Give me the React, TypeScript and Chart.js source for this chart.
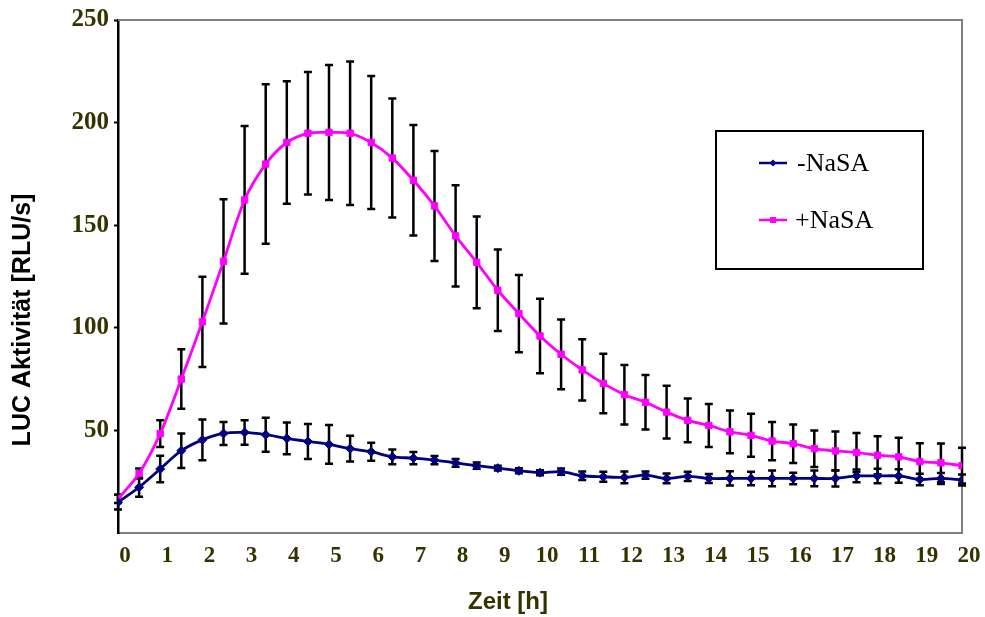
import React, { useEffect, useRef } from 'react';
import { Chart, registerables } from 'chart.js';

Chart.register(...registerables);

// Time points [h]
const hours = [
  0, 0.5, 1, 1.5, 2, 2.5, 3, 3.5, 4, 4.5, 5, 5.5, 6, 6.5, 7, 7.5, 8, 8.5, 9, 9.5,
  10, 10.5, 11, 11.5, 12, 12.5, 13, 13.5, 14, 14.5, 15, 15.5, 16, 16.5, 17, 17.5,
  18, 18.5, 19, 19.5, 20,
];

// -NaSA series (mean and error)
const minusNaSA = [
  15.0, 22.3, 31.2, 40.1, 45.4, 48.5, 49.0, 47.9, 46.1, 44.6, 43.2, 41.1, 39.6, 37.1,
  36.5, 35.5, 34.2, 32.8, 31.6, 30.3, 29.4, 29.9, 27.9, 27.4, 27.1, 28.2, 26.6, 27.6,
  26.6, 26.6, 26.6, 26.6, 26.6, 26.6, 26.6, 27.8, 27.8, 27.8, 26.1, 26.6, 25.8,
];
const minusNaSAErr = [
  3.6, 4.6, 6.5, 8.4, 9.9, 5.6, 6.0, 8.3, 7.7, 8.5, 9.4, 6.3, 4.4, 3.6,
  3.0, 2.0, 1.9, 1.5, 1.2, 1.2, 1.2, 1.5, 2.1, 2.4, 2.9, 1.8, 2.4, 2.2,
  2.2, 3.5, 3.3, 3.8, 2.8, 3.8, 4.0, 3.1, 3.5, 3.3, 2.8, 2.7, 2.7,
];

// +NaSA series (mean and error)
const plusNaSA = [
  16.6, 29.0, 48.4, 75.0, 102.9, 132.4, 162.3, 179.8, 190.3, 194.8, 195.2, 194.8, 190.3, 182.7,
  171.9, 159.4, 144.8, 131.9, 118.3, 106.9, 96.0, 87.1, 79.5, 72.9, 67.4, 63.7, 58.9, 54.9,
  52.4, 49.3, 47.6, 44.8, 43.5, 41.1, 40.0, 39.2, 37.9, 37.1, 34.8, 34.2, 32.8,
];
const plusNaSAErr = [
  2.0, 2.4, 6.5, 14.5, 22.0, 30.3, 36.0, 38.9, 29.9, 29.8, 32.9, 35.0, 32.4, 29.0,
  26.9, 26.8, 24.7, 22.4, 19.8, 18.8, 18.2, 17.0, 14.9, 14.5, 14.5, 13.3, 12.9, 10.7,
  10.5, 10.4, 10.5, 9.3, 9.4, 8.9, 9.5, 9.5, 9.3, 9.3, 8.9, 9.4, 8.7,
];

// Tick labels
const xTickValues = [0, 1, 2, 3, 4, 5, 6, 7, 8, 9, 10, 11, 12, 13, 14, 15, 16, 17, 18, 19, 20];
const yTickValues = [50, 100, 150, 200, 250];

const seriesLabels = ['-NaSA', '+NaSA'];
const xTitle = 'Zeit [h]';
const yTitle = 'LUC Aktivität [RLU/s]';

const OLIVE = '#333300';

export default function App() {
  const ref = useRef<HTMLCanvasElement>(null);

  useEffect(() => {
    if (!ref.current) return;

    const errorBars = {
      id: 'errorBars',
      beforeDatasetsDraw(chart: any) {
        const ctx = chart.ctx;
        const yScale = chart.scales.y;
        ctx.save();
        ctx.strokeStyle = '#000';
        ctx.lineWidth = 2.5;
        chart.data.datasets.forEach((ds: any, di: number) => {
          const meta = chart.getDatasetMeta(di);
          const errs: number[] = ds.errors || [];
          meta.data.forEach((pt: any, j: number) => {
            const v = ds.data[j].y;
            const e = errs[j] || 0;
            const x = pt.x;
            const yT = yScale.getPixelForValue(v + e);
            const yB = yScale.getPixelForValue(v - e);
            ctx.beginPath();
            ctx.moveTo(x, yT);
            ctx.lineTo(x, yB);
            ctx.moveTo(x - 4, yT);
            ctx.lineTo(x + 4, yT);
            ctx.moveTo(x - 4, yB);
            ctx.lineTo(x + 4, yB);
            ctx.stroke();
          });
        });
        ctx.restore();
      },
    };

    const frame = {
      id: 'frame',
      beforeDatasetsDraw(chart: any) {
        const { ctx, chartArea } = chart;
        ctx.save();
        ctx.strokeStyle = '#808080';
        ctx.lineWidth = 2;
        ctx.beginPath();
        ctx.moveTo(chartArea.left, chartArea.top);
        ctx.lineTo(chartArea.right, chartArea.top);
        ctx.lineTo(chartArea.right, chartArea.bottom);
        ctx.stroke();
        ctx.restore();
      },
    };

    const legendBox = {
      id: 'legendBox',
      afterDraw(chart: any) {
        const ctx = chart.ctx;
        ctx.save();
        ctx.fillStyle = '#fff';
        ctx.fillRect(716, 131, 207, 138);
        ctx.strokeStyle = '#000';
        ctx.lineWidth = 2;
        ctx.strokeRect(716, 131, 207, 138);
        const rows = [163, 220];
        chart.data.datasets.forEach((ds: any, i: number) => {
          const y = rows[i];
          ctx.strokeStyle = ds.borderColor;
          ctx.fillStyle = ds.borderColor;
          ctx.lineWidth = 2.5;
          ctx.beginPath();
          ctx.moveTo(759, y);
          ctx.lineTo(787, y);
          ctx.stroke();
          ctx.beginPath();
          if (ds.pointStyle === 'rectRot') {
            ctx.moveTo(773, y - 3.5);
            ctx.lineTo(776.5, y);
            ctx.lineTo(773, y + 3.5);
            ctx.lineTo(769.5, y);
            ctx.closePath();
          } else {
            ctx.rect(770, y - 3, 6, 6);
          }
          ctx.fill();
          ctx.fillStyle = '#000';
          ctx.font = '26px "Liberation Serif"';
          ctx.textAlign = 'left';
          ctx.textBaseline = 'middle';
          ctx.fillText(ds.label, i === 0 ? 797 : 795, y + 1);
        });
        ctx.restore();
      },
    };

    const titles = {
      id: 'titles',
      afterDraw(chart: any) {
        const ctx = chart.ctx;
        ctx.save();
        ctx.textAlign = 'center';
        ctx.textBaseline = 'middle';
        ctx.fillStyle = OLIVE;
        ctx.font = 'bold 24px "Liberation Sans"';
        ctx.fillText(xTitle, 508, 602);
        ctx.translate(23, 320);
        ctx.rotate(-Math.PI / 2);
        ctx.fillStyle = '#000';
        ctx.font = 'bold 25px "Liberation Sans"';
        ctx.fillText(yTitle, 0, 0);
        ctx.restore();
      },
    };

    const chart = new Chart(ref.current, {
      type: 'line',
      data: {
        datasets: [
          {
            label: seriesLabels[0],
            data: hours.map((h, i) => ({ x: h, y: minusNaSA[i] })),
            errors: minusNaSAErr,
            borderColor: '#000080',
            backgroundColor: '#000080',
            pointBackgroundColor: '#000080',
            pointBorderColor: '#000080',
            pointStyle: 'rectRot',
            pointRadius: 4.5,
            pointBorderWidth: 1,
            borderWidth: 2.8,
            tension: 0.3,
          } as any,
          {
            label: seriesLabels[1],
            data: hours.map((h, i) => ({ x: h, y: plusNaSA[i] })),
            errors: plusNaSAErr,
            borderColor: '#FF00FF',
            backgroundColor: '#FF00FF',
            pointBackgroundColor: '#FF00FF',
            pointBorderColor: '#FF00FF',
            pointStyle: 'rect',
            pointRadius: 4.5,
            pointBorderWidth: 1,
            borderWidth: 2.8,
            tension: 0.3,
          } as any,
        ],
      },
      options: {
        animation: false,
        responsive: false,
        layout: { padding: { top: 16, right: 23, left: 0, bottom: 0 } },
        plugins: { legend: { display: false }, tooltip: { enabled: false } },
        scales: {
          x: {
            type: 'linear',
            min: 0,
            max: 20,
            afterBuildTicks: (scale: any) => {
              scale.ticks = xTickValues.map((v) => ({ value: v }));
            },
            ticks: {
              labelOffset: 7,
              padding: 9,
              autoSkip: false,
              maxRotation: 0,
              color: OLIVE,
              font: { family: '"Liberation Serif"', weight: 'bold', size: 23 },
            },
            grid: { display: false, drawTicks: false },
            border: { display: true, color: '#808080', width: 2 },
            afterFit: (scale: any) => {
              scale.height = 84;
            },
          },
          y: {
            type: 'linear',
            min: 0,
            max: 250,
            afterBuildTicks: (scale: any) => {
              scale.ticks = yTickValues.map((v) => ({ value: v }));
            },
            ticks: {
              padding: 5,
              color: OLIVE,
              font: { family: '"Liberation Serif"', weight: 'bold', size: 25 },
            },
            grid: {
              display: true,
              drawOnChartArea: false,
              drawTicks: true,
              tickLength: 4,
              tickColor: '#000',
              tickWidth: 2,
            },
            border: { display: true, color: '#000', width: 2.5 },
            afterFit: (scale: any) => {
              scale.width = 118;
            },
          },
        },
      } as any,
      plugins: [frame, errorBars, legendBox, titles],
    });

    return () => chart.destroy();
  }, []);

  return (
    <div style={{ position: 'fixed', left: 0, top: 0, width: 985, height: 617, background: '#fff' }}>
      <canvas ref={ref} width={985} height={617} style={{ display: 'block' }} />
    </div>
  );
}
